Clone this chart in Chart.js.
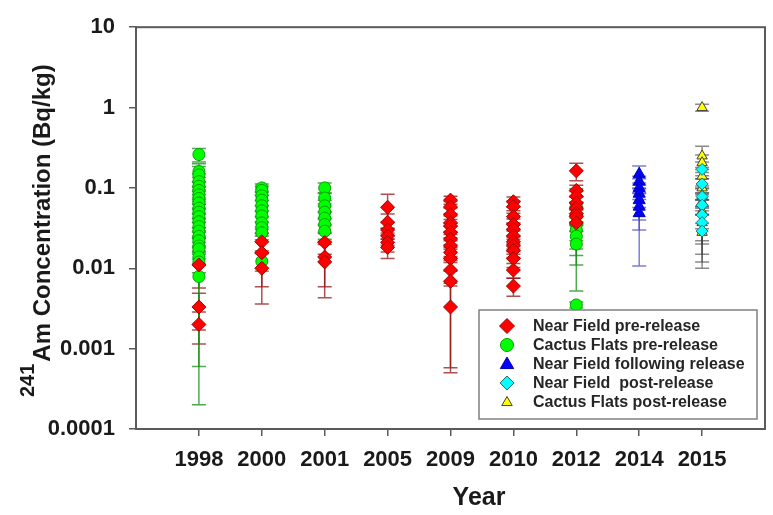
<!DOCTYPE html>
<html>
<head>
<meta charset="utf-8">
<script src="https://cdn.jsdelivr.net/npm/chart.js@4.4.0/dist/chart.umd.min.js"></script>
<style>
  html, body { margin: 0; padding: 0; background: #fff; }
  #wrap { width: 773px; height: 515px; }
</style>
</head>
<body>
<div id="wrap"><canvas id="am-chart" width="773" height="515"></canvas></div>
<script>
// categories and axis ticks
var years = ['1998', '2000', '2001', '2005', '2009', '2010', '2012', '2014', '2015'];
var yTickValues = [0.0001, 0.001, 0.01, 0.1, 1, 10];
var yTickLabels = ['0.0001', '0.001', '0.01', '0.1', '1', '10'];

// Near Field pre-release (red diamonds)
var nfPreYear = ['1998','1998','1998',
  '2000','2000','2000',
  '2001','2001','2001',
  '2005','2005','2005','2005','2005','2005',
  '2009','2009','2009','2009','2009','2009','2009','2009','2009','2009','2009','2009','2009',
  '2010','2010','2010','2010','2010','2010','2010','2010','2010','2010','2010','2010',
  '2012','2012','2012','2012','2012','2012','2012','2012'];
var nfPreConc = [0.011, 0.0033, 0.002,
  0.0214, 0.0156, 0.01,
  0.021, 0.0138, 0.012,
  0.0574, 0.0374, 0.03, 0.0253, 0.021, 0.0182,
  0.0705, 0.058, 0.0464, 0.0367, 0.0334, 0.028, 0.0231, 0.019, 0.0158, 0.0132, 0.0095, 0.0069, 0.0033,
  0.0673, 0.0585, 0.044, 0.035, 0.0305, 0.0253, 0.0214, 0.019, 0.0166, 0.0132, 0.0095, 0.006,
  0.163, 0.093, 0.0785, 0.065, 0.056, 0.048, 0.044, 0.0367];
var nfPreErr = [0.0053, 0.0016, 0.00086,
  0.006, 0.0097, 0.0064,
  0.006, 0.0079, 0.0077,
  0.026, 0.01, 0.007, 0.006, 0.005, 0.005,
  0.008, 0.01, 0.01, 0.008, 0.007, 0.006, 0.005, 0.005, 0.004, 0.004, 0.003, 0.0064, 0.00272,
  0.01, 0.01, 0.008, 0.006, 0.006, 0.005, 0.004, 0.004, 0.003, 0.003, 0.002, 0.0015,
  0.04, 0.015, 0.012, 0.012, 0.01, 0.01, 0.01, 0.008];

// Cactus Flats pre-release (green circles)
var cfPreYear = ['1998','1998','1998','1998','1998','1998','1998','1998','1998','1998','1998',
  '1998','1998','1998','1998','1998','1998','1998','1998','1998','1998','1998',
  '2000','2000','2000','2000','2000','2000','2000','2000','2000','2000','2000',
  '2001','2001','2001','2001','2001','2001','2001',
  '2012','2012','2012','2012','2012','2012','2012'];
var cfPreConc = [0.26, 0.16, 0.145, 0.12, 0.105, 0.093, 0.082, 0.074, 0.065, 0.056, 0.05,
  0.044, 0.038, 0.033, 0.029, 0.025, 0.022, 0.019, 0.0174, 0.0138, 0.012, 0.0079,
  0.1, 0.093, 0.08, 0.0705, 0.06, 0.052, 0.045, 0.0367, 0.032, 0.0277, 0.0122,
  0.1, 0.075, 0.06, 0.05, 0.042, 0.035, 0.029,
  0.06, 0.045, 0.035, 0.03, 0.025, 0.02, 0.0035];
var cfPreErr = [0.05, 0.04, 0.04, 0.03, 0.03, 0.025, 0.02, 0.02, 0.018, 0.015, 0.013,
  0.012, 0.01, 0.009, 0.008, 0.007, 0.007, 0.006, 0.006, 0.005, 0.0114, 0.0077,
  0.012, 0.012, 0.01, 0.01, 0.009, 0.008, 0.007, 0.006, 0.005, 0.005, 0.003,
  0.015, 0.012, 0.01, 0.009, 0.008, 0.007, 0.006,
  0.038, 0.01, 0.0298, 0.0126, 0.0106, 0.009, 0.0003];

// Near Field following release (blue triangles)
var nfFollowYear = ['2014','2014','2014','2014','2014','2014','2014'];
var nfFollowConc = [0.148, 0.12, 0.1, 0.0848, 0.0705, 0.0585, 0.0485];
var nfFollowErr = [0.04, 0.02, 0.015, 0.013, 0.0598, 0.0285, 0.0085];

// Near Field post-release (cyan diamonds)
var nfPostYear = ['2015','2015','2015','2015','2015','2015','2015'];
var nfPostConc = [0.17, 0.112, 0.078, 0.061, 0.046, 0.037, 0.029];
var nfPostErr = [0.04, 0.03, 0.02, 0.025, 0.026, 0.022, 0.017];

// Cactus Flats post-release (yellow triangles)
var cfPostYear = ['2015','2015','2015','2015','2015','2015','2015','2015','2015','2015'];
var cfPostConc = [1.0, 0.25, 0.206, 0.14, 0.1, 0.081, 0.067, 0.051, 0.037, 0.028];
var cfPostErr = [0.1, 0.08, 0.05, 0.04, 0.03, 0.025, 0.02, 0.02, 0.015, 0.018];

var textColor = '#1a1a1a';
var axisColor = '#5a5a5a';
var fontFamily = '"Liberation Sans", Arial, sans-serif';

//Turn the year/value arrays into chart points
var buildPoints = function(yearList, concList) {
  var pts = [];
  for (var i = 0; i < concList.length; i++) {
    pts.push({ x: years.indexOf(yearList[i]) + 1, y: concList[i] });
  }
  return pts;
}

var makeDataset = function(label, yearList, concList, errList, style) {
  return {
    label: label,
    data: buildPoints(yearList, concList),
    errors: errList,
    errorColor: style.errorColor,
    pointStyle: style.pointStyle,
    pointRadius: style.radius,
    legendRadius: style.legendRadius,
    backgroundColor: style.fill,
    borderColor: style.border,
    borderWidth: 1,
    showLine: false
  };
}

//Draw vertical error bars with caps, under the markers
var errorBarPlugin = {
  id: 'errorBars',
  beforeDatasetsDraw: function(chart) {
    var ctx = chart.ctx;
    var xScale = chart.scales.x;
    var yScale = chart.scales.y;
    var yMin = yScale.min;
    ctx.save();
    ctx.beginPath();
    ctx.rect(chart.chartArea.left, chart.chartArea.top, chart.chartArea.width, chart.chartArea.height);
    ctx.clip();
    chart.data.datasets.forEach(function(ds) {
      ctx.strokeStyle = ds.errorColor;
      ctx.lineWidth = 1.5;
      for (var i = 0; i < ds.data.length; i++) {
        var v = ds.data[i].y;
        var e = ds.errors[i];
        var x = xScale.getPixelForValue(ds.data[i].x);
        var yHi = yScale.getPixelForValue(v + e);
        var low = v - e;
        var yLo = yScale.getPixelForValue(low > yMin ? low : yMin);
        ctx.beginPath();
        ctx.moveTo(x, yHi);
        ctx.lineTo(x, yLo);
        ctx.moveTo(x - 7, yHi);
        ctx.lineTo(x + 7, yHi);
        if (low > yMin) {
          ctx.moveTo(x - 7, yLo);
          ctx.lineTo(x + 7, yLo);
        }
        ctx.stroke();
      }
    });
    ctx.restore();
  }
};

//Small marker painter for the legend box
var drawMarker = function(ctx, style, x, y, r) {
  ctx.beginPath();
  if (style === 'circle') {
    ctx.arc(x, y, r, 0, Math.PI * 2);
  } else if (style === 'rectRot') {
    ctx.moveTo(x - r, y);
    ctx.lineTo(x, y - r);
    ctx.lineTo(x + r, y);
    ctx.lineTo(x, y + r);
    ctx.closePath();
  } else {
    ctx.moveTo(x, y - r);
    ctx.lineTo(x + r * 0.95, y + r * 0.65);
    ctx.lineTo(x - r * 0.95, y + r * 0.65);
    ctx.closePath();
  }
  ctx.fill();
  ctx.stroke();
}

//Frame, axis titles (y one with superscript) and the in-plot legend
var decorPlugin = {
  id: 'decor',
  afterDraw: function(chart) {
    var ctx = chart.ctx;
    var area = chart.chartArea;
    ctx.save();
    ctx.strokeStyle = axisColor;
    ctx.lineWidth = 2;
    ctx.strokeRect(area.left, area.top, area.right - area.left, area.bottom - area.top);

    // x title
    ctx.fillStyle = textColor;
    ctx.font = 'bold 25px ' + fontFamily;
    ctx.textAlign = 'center';
    ctx.textBaseline = 'middle';
    ctx.fillText('Year', 479, 498);

    // y title
    ctx.translate(50, 397);
    ctx.rotate(-Math.PI / 2);
    ctx.textAlign = 'left';
    ctx.textBaseline = 'alphabetic';
    ctx.font = 'bold 20px ' + fontFamily;
    ctx.fillText('241', 0, -16);
    var supW = ctx.measureText('241').width;
    ctx.font = 'bold 24px ' + fontFamily;
    ctx.fillText('Am Concentration (Bq/kg)', supW + 2, 0);
    ctx.setTransform(1, 0, 0, 1, 0, 0);

    // legend
    var lx = 479, ly = 310, lw = 278, lh = 109;
    ctx.fillStyle = '#fff';
    ctx.fillRect(lx, ly, lw, lh);
    ctx.strokeStyle = '#808080';
    ctx.lineWidth = 1.5;
    ctx.strokeRect(lx, ly, lw, lh);
    var rowY = [326, 345, 364, 383, 402];
    chart.data.datasets.forEach(function(ds, i) {
      ctx.fillStyle = ds.backgroundColor;
      ctx.strokeStyle = ds.borderColor;
      ctx.lineWidth = 1;
      drawMarker(ctx, ds.pointStyle, 507, rowY[i], ds.legendRadius);
      ctx.fillStyle = '#262626';
      ctx.font = 'bold 16px ' + fontFamily;
      ctx.textAlign = 'left';
      ctx.textBaseline = 'middle';
      ctx.fillText(ds.label, 533, rowY[i] + 1);
    });
    ctx.restore();
  }
};

var datasets = [
  makeDataset('Near Field pre-release', nfPreYear, nfPreConc, nfPreErr,
    { pointStyle: 'rectRot', radius: 7, legendRadius: 7.5, fill: '#ff0000', border: '#a00000', errorColor: 'rgba(150,20,20,0.75)' }),
  makeDataset('Cactus Flats pre-release', cfPreYear, cfPreConc, cfPreErr,
    { pointStyle: 'circle', radius: 6, legendRadius: 6.5, fill: '#00ff00', border: '#00a000', errorColor: 'rgba(20,140,20,0.75)' }),
  makeDataset('Near Field following release', nfFollowYear, nfFollowConc, nfFollowErr,
    { pointStyle: 'triangle', radius: 7, legendRadius: 7, fill: '#0000ff', border: '#0000b0', errorColor: 'rgba(70,70,200,0.7)' }),
  makeDataset('Near Field  post-release', nfPostYear, nfPostConc, nfPostErr,
    { pointStyle: 'rectRot', radius: 6, legendRadius: 7, fill: '#00ffff', border: '#207070', errorColor: 'rgba(60,60,60,0.6)' }),
  makeDataset('Cactus Flats post-release', cfPostYear, cfPostConc, cfPostErr,
    { pointStyle: 'triangle', radius: 6, legendRadius: 5.5, fill: '#ffff00', border: '#404040', errorColor: 'rgba(60,60,60,0.6)' })
];

var ctx = document.getElementById('am-chart').getContext('2d');
var amChart = new Chart(ctx, {
  type: 'scatter',
  data: { datasets: datasets },
  options: {
    responsive: false,
    animation: false,
    devicePixelRatio: 1,
    layout: { padding: { left: 0, top: 16, right: 6, bottom: 0 } },
    plugins: {
      legend: { display: false },
      tooltip: { enabled: false }
    },
    scales: {
      x: {
        type: 'linear',
        position: 'bottom',
        min: 0,
        max: 10,
        afterBuildTicks: function(scale) {
          scale.ticks = years.map(function(y, i) { return { value: i + 1 }; });
        },
        afterFit: function(scale) { scale.height = 86; },
        grid: { display: true, drawOnChartArea: false, drawTicks: true, tickLength: 7, color: axisColor, lineWidth: 1.5 },
        border: { display: true, color: axisColor, width: 2 },
        ticks: {
          autoSkip: false,
          maxRotation: 0,
          padding: 11,
          color: textColor,
          font: { family: fontFamily, size: 22, weight: 'bold' },
          callback: function(value) { return years[value - 1]; }
        }
      },
      y: {
        type: 'logarithmic',
        min: 0.0001,
        max: 10,
        afterBuildTicks: function(scale) {
          scale.ticks = yTickValues.map(function(v) { return { value: v }; });
        },
        afterFit: function(scale) { scale.width = 136; },
        grid: { display: true, drawOnChartArea: false, drawTicks: true, tickLength: 7, color: axisColor, lineWidth: 1.5 },
        border: { display: true, color: axisColor, width: 2 },
        ticks: {
          autoSkip: false,
          padding: 14,
          color: textColor,
          font: { family: fontFamily, size: 22, weight: 'bold' },
          callback: function(value, index) { return yTickLabels[index]; }
        }
      }
    }
  },
  plugins: [errorBarPlugin, decorPlugin]
});
</script>
</body>
</html>
